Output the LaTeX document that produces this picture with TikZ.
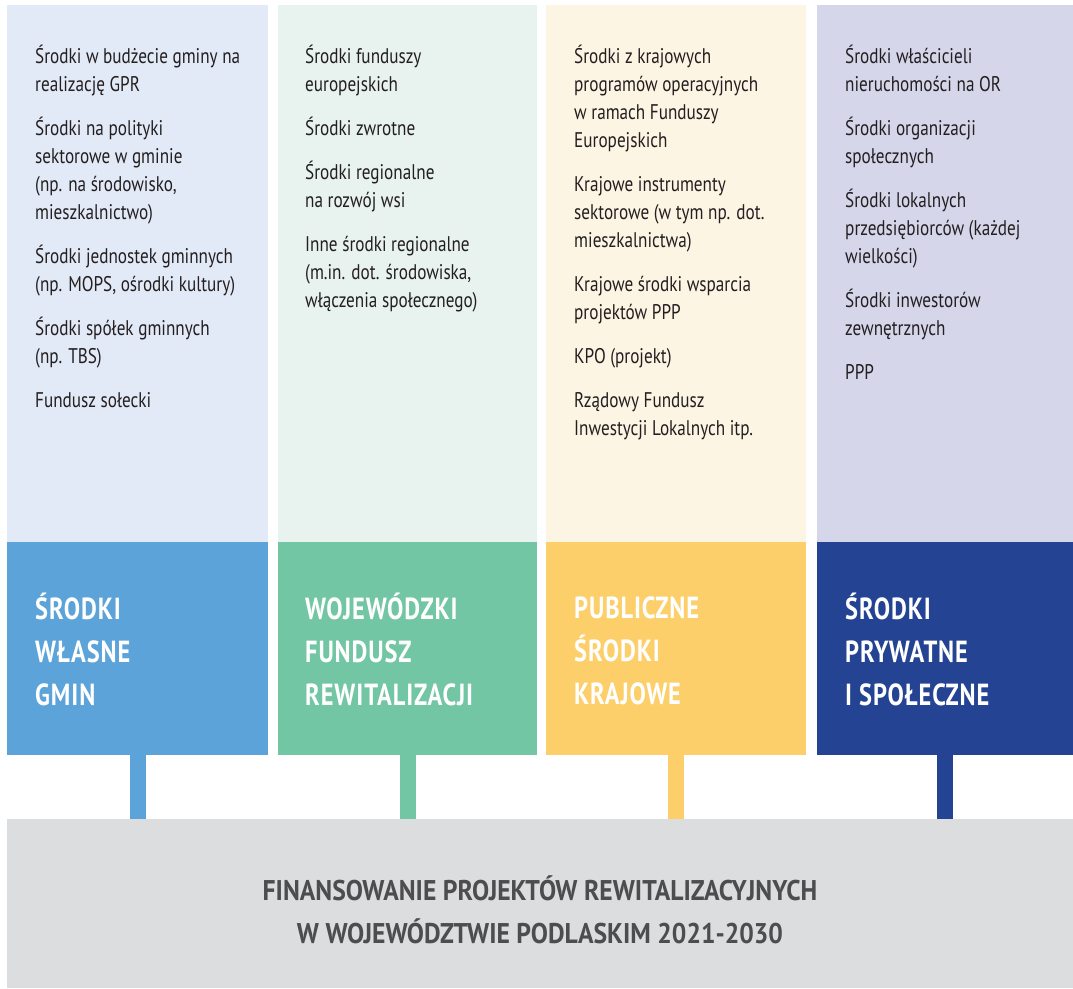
\documentclass[tikz,border=0pt]{standalone}
\usepackage{fontspec}
\setmainfont{PT Sans}[FakeStretch=0.81]
\newfontfamily\hdfont{PT Sans}[FakeStretch=0.8,LetterSpace=3]
\newfontfamily\ttlfont{PT Sans}[FakeStretch=0.9]
\definecolor{lightA}{HTML}{E3EAF7}
\definecolor{lightB}{HTML}{E8F2EE}
\definecolor{lightC}{HTML}{FDF5E4}
\definecolor{lightD}{HTML}{D5D6EA}
\definecolor{darkA}{HTML}{5BA3D9}
\definecolor{darkB}{HTML}{73C6A3}
\definecolor{darkC}{HTML}{FDCF6A}
\definecolor{darkD}{HTML}{244393}
\definecolor{baseGray}{HTML}{DCDDDF}
\definecolor{titleGray}{HTML}{4D4D4F}
\definecolor{bodyText}{HTML}{231F20}
\tikzset{
  panel/.style={anchor=north west, inner sep=0pt, outer sep=0pt, draw=none},
  bodytxt/.style={anchor=north west, inner sep=0pt, align=left, text=bodyText,
    font=\fontsize{21.2}{28}\selectfont},
  headtxt/.style={anchor=north west, inner sep=0pt, align=left, text=white,
    font=\hdfont\bfseries\fontsize{30.5}{43}\selectfont},
  stem/.style={line width=16pt},
}
\begin{document}
\begin{tikzpicture}[x=1pt,y=-1pt]
\useasboundingbox (0,0) rectangle (1073,988);
% light panels
\node[panel, fill=lightA, minimum width=261pt, minimum height=537pt] (l1) at (7,5) {};
\node[panel, fill=lightB, minimum width=259pt, minimum height=537pt] (l2) at (278,5) {};
\node[panel, fill=lightC, minimum width=260pt, minimum height=537pt] (l3) at (546,5) {};
\node[panel, fill=lightD, minimum width=256pt, minimum height=537pt] (l4) at (817,5) {};
% dark headers
\node[panel, fill=darkA, minimum width=261pt, minimum height=213pt] (d1) at (7,542) {};
\node[panel, fill=darkB, minimum width=259pt, minimum height=213pt] (d2) at (278,542) {};
\node[panel, fill=darkC, minimum width=260pt, minimum height=213pt] (d3) at (546,542) {};
\node[panel, fill=darkD, minimum width=256pt, minimum height=213pt] (d4) at (817,542) {};
% base box
\node[panel, fill=baseGray, minimum width=1066pt, minimum height=169pt] (g) at (7,819) {};
% stems
\draw[stem, darkA] (d1.south) -- (d1.south |- g.north);
\draw[stem, darkB] (d2.south) -- (d2.south |- g.north);
\draw[stem, darkC] (d3.south) -- (d3.south |- g.north);
\draw[stem, darkD] (d4.south) -- (d4.south |- g.north);
% body texts
\node[bodytxt] (t1) at (35,43) {\rule{0pt}{20pt}Środki w budżecie gminy na\\realizację GPR\\[16pt]
Środki na polityki\\sektorowe w gminie\\(np. na środowisko,\\mieszkalnictwo)\\[16pt]
Środki jednostek gminnych\\(np. MOPS, ośrodki kultury)\\[16pt]
Środki spółek gminnych\\(np. TBS)\\[16pt]
Fundusz sołecki};
\node[bodytxt] (t2) at (305,43) {\rule{0pt}{20pt}Środki funduszy\\europejskich\\[16pt]
Środki zwrotne\\[16pt]
Środki regionalne\\na rozwój wsi\\[16pt]
Inne środki regionalne\\(m.in. dot. środowiska,\\włączenia społecznego)};
\node[bodytxt] (t3) at (574,43) {\rule{0pt}{20pt}Środki z krajowych\\programów operacyjnych\\w ramach Funduszy\\Europejskich\\[16pt]
Krajowe instrumenty\\sektorowe (w tym np. dot.\\mieszkalnictwa)\\[16pt]
Krajowe środki wsparcia\\projektów PPP\\[16pt]
KPO (projekt)\\[16pt]
Rządowy Fundusz\\Inwestycji Lokalnych itp.};
\node[bodytxt] (t4) at (845,43) {\rule{0pt}{20pt}Środki właścicieli\\nieruchomości na OR\\[16pt]
Środki organizacji\\społecznych\\[16pt]
Środki lokalnych\\przedsiębiorców (każdej\\wielkości)\\[16pt]
Środki inwestorów\\zewnętrznych\\[16pt]
PPP};
% header texts
\node[headtxt] (h1) at (35,593) {\rule{0pt}{25pt}ŚRODKI\\WŁASNE\\GMIN};
\node[headtxt] (h2) at (305,593) {\rule{0pt}{25pt}WOJEWÓDZKI\\FUNDUSZ\\REWITALIZACJI};
\node[headtxt] (h3) at (574,593) {\rule{0pt}{25pt}PUBLICZNE\\ŚRODKI\\KRAJOWE};
\node[headtxt] (h4) at (845,593) {\rule{0pt}{25pt}ŚRODKI\\PRYWATNE\\I SPOŁECZNE};
% title
\node[anchor=north, inner sep=0pt, align=center, text=titleGray,
  font=\ttlfont\bfseries\fontsize{28.5}{43}\selectfont] (title) at (540,875)
  {\rule{0pt}{23pt}FINANSOWANIE PROJEKTÓW REWITALIZACYJNYCH\\W WOJEWÓDZTWIE PODLASKIM 2021-2030};
\end{tikzpicture}
\end{document}
